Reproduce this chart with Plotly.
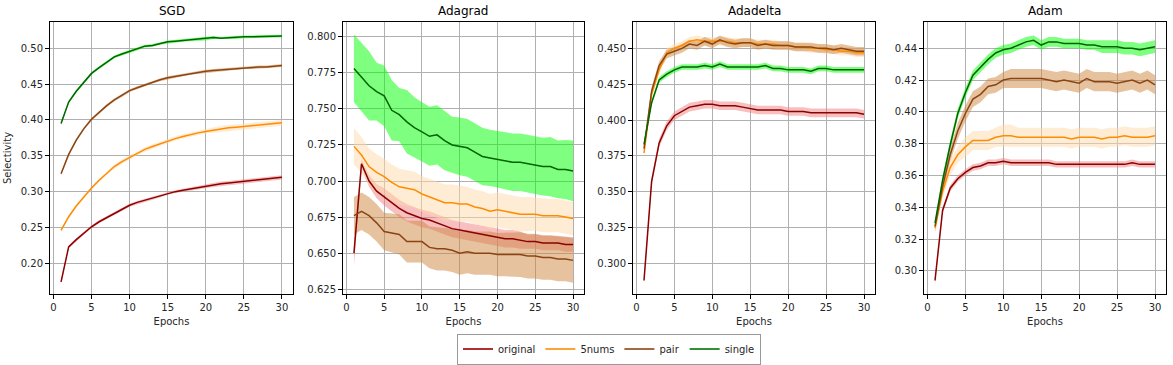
import plotly.graph_objects as go
from plotly.subplots import make_subplots

epochs = list(range(1, 31))
optimizers = ['SGD', 'Adagrad', 'Adadelta', 'Adam']
series = ['original', '5nums', 'pair', 'single']

# mean selectivity per optimizer / series
sgd_original = [0.174, 0.223, 0.233, 0.242, 0.251, 0.258, 0.264, 0.270, 0.275, 0.281, 0.285, 0.288, 0.291, 0.294, 0.298, 0.300, 0.302, 0.304, 0.306, 0.308, 0.309, 0.311, 0.312, 0.313, 0.315, 0.316, 0.317, 0.318, 0.319, 0.320]
sgd_5nums = [0.246, 0.265, 0.280, 0.293, 0.305, 0.316, 0.326, 0.335, 0.342, 0.348, 0.354, 0.359, 0.363, 0.367, 0.371, 0.374, 0.377, 0.380, 0.382, 0.384, 0.386, 0.388, 0.389, 0.390, 0.391, 0.392, 0.393, 0.394, 0.395, 0.396]
sgd_pair = [0.325, 0.352, 0.372, 0.388, 0.401, 0.411, 0.420, 0.428, 0.434, 0.441, 0.445, 0.449, 0.453, 0.456, 0.459, 0.461, 0.463, 0.465, 0.466, 0.468, 0.469, 0.470, 0.471, 0.472, 0.473, 0.473, 0.474, 0.474, 0.475, 0.476]
sgd_single = [0.395, 0.425, 0.440, 0.452, 0.465, 0.473, 0.481, 0.488, 0.492, 0.496, 0.499, 0.503, 0.504, 0.507, 0.509, 0.510, 0.511, 0.512, 0.513, 0.513, 0.515, 0.514, 0.515, 0.515, 0.516, 0.516, 0.516, 0.516, 0.517, 0.517]

adagrad_original = [0.650, 0.712, 0.700, 0.693, 0.689, 0.685, 0.681, 0.678, 0.676, 0.674, 0.673, 0.671, 0.669, 0.667, 0.666, 0.665, 0.664, 0.663, 0.662, 0.661, 0.660, 0.660, 0.659, 0.658, 0.658, 0.657, 0.657, 0.657, 0.656, 0.656]
adagrad_5nums = [0.724, 0.718, 0.710, 0.706, 0.703, 0.699, 0.696, 0.695, 0.694, 0.691, 0.689, 0.687, 0.685, 0.685, 0.684, 0.684, 0.682, 0.681, 0.679, 0.680, 0.679, 0.678, 0.677, 0.677, 0.677, 0.676, 0.676, 0.676, 0.675, 0.674]
adagrad_pair = [0.676, 0.679, 0.676, 0.671, 0.665, 0.664, 0.663, 0.658, 0.658, 0.658, 0.654, 0.653, 0.653, 0.652, 0.650, 0.651, 0.650, 0.650, 0.650, 0.649, 0.649, 0.649, 0.649, 0.648, 0.648, 0.647, 0.647, 0.646, 0.646, 0.645]
adagrad_single = [0.778, 0.772, 0.766, 0.762, 0.759, 0.749, 0.746, 0.741, 0.737, 0.734, 0.731, 0.732, 0.728, 0.725, 0.724, 0.723, 0.720, 0.717, 0.716, 0.715, 0.714, 0.713, 0.713, 0.712, 0.711, 0.710, 0.710, 0.708, 0.708, 0.707]

adadelta_original = [0.288, 0.357, 0.384, 0.396, 0.403, 0.406, 0.409, 0.410, 0.411, 0.411, 0.410, 0.410, 0.410, 0.409, 0.408, 0.407, 0.407, 0.407, 0.407, 0.406, 0.406, 0.406, 0.405, 0.405, 0.405, 0.405, 0.405, 0.405, 0.405, 0.404]
adadelta_5nums = [0.377, 0.418, 0.435, 0.447, 0.450, 0.452, 0.455, 0.456, 0.455, 0.455, 0.455, 0.455, 0.454, 0.454, 0.454, 0.453, 0.453, 0.453, 0.452, 0.452, 0.451, 0.451, 0.450, 0.450, 0.449, 0.449, 0.448, 0.448, 0.447, 0.447]
adadelta_pair = [0.380, 0.420, 0.438, 0.446, 0.448, 0.450, 0.453, 0.452, 0.455, 0.453, 0.456, 0.454, 0.453, 0.454, 0.454, 0.452, 0.453, 0.452, 0.452, 0.452, 0.451, 0.451, 0.451, 0.450, 0.450, 0.449, 0.450, 0.449, 0.448, 0.448]
adadelta_single = [0.383, 0.412, 0.428, 0.432, 0.435, 0.437, 0.437, 0.437, 0.438, 0.437, 0.439, 0.437, 0.437, 0.437, 0.437, 0.437, 0.438, 0.436, 0.436, 0.435, 0.435, 0.435, 0.434, 0.436, 0.436, 0.435, 0.435, 0.435, 0.435, 0.435]

adam_original = [0.294, 0.338, 0.352, 0.358, 0.362, 0.365, 0.366, 0.368, 0.368, 0.369, 0.368, 0.368, 0.368, 0.368, 0.368, 0.368, 0.367, 0.367, 0.367, 0.367, 0.367, 0.367, 0.367, 0.367, 0.367, 0.367, 0.368, 0.367, 0.367, 0.367]
adam_5nums = [0.327, 0.350, 0.365, 0.373, 0.378, 0.382, 0.382, 0.382, 0.384, 0.385, 0.385, 0.384, 0.384, 0.384, 0.384, 0.384, 0.384, 0.384, 0.383, 0.384, 0.384, 0.384, 0.383, 0.384, 0.384, 0.385, 0.384, 0.384, 0.384, 0.385]
adam_pair = [0.328, 0.353, 0.373, 0.388, 0.399, 0.408, 0.411, 0.416, 0.417, 0.420, 0.421, 0.421, 0.421, 0.421, 0.421, 0.420, 0.419, 0.420, 0.419, 0.418, 0.421, 0.419, 0.419, 0.419, 0.418, 0.419, 0.420, 0.418, 0.420, 0.417]
adam_single = [0.330, 0.357, 0.379, 0.399, 0.412, 0.423, 0.428, 0.433, 0.437, 0.439, 0.440, 0.442, 0.444, 0.445, 0.442, 0.444, 0.444, 0.443, 0.443, 0.443, 0.442, 0.442, 0.441, 0.441, 0.441, 0.440, 0.440, 0.439, 0.440, 0.441]

# half width of the shaded band (std)
sgd_original_sd = [0.002, 0.002, 0.002, 0.002, 0.002, 0.002, 0.002, 0.002, 0.002, 0.002, 0.002, 0.002, 0.002, 0.002, 0.002, 0.002, 0.002, 0.002, 0.003, 0.003, 0.003, 0.003, 0.003, 0.003, 0.003, 0.003, 0.003, 0.003, 0.003, 0.003]
sgd_5nums_sd = [0.002, 0.002, 0.002, 0.002, 0.002, 0.002, 0.002, 0.003, 0.003, 0.003, 0.003, 0.003, 0.003, 0.003, 0.003, 0.003, 0.003, 0.003, 0.003, 0.003, 0.004, 0.004, 0.004, 0.004, 0.004, 0.004, 0.004, 0.004, 0.004, 0.004]
sgd_pair_sd = [0.002, 0.002, 0.002, 0.002, 0.002, 0.002, 0.002, 0.002, 0.002, 0.002, 0.002, 0.002, 0.002, 0.002, 0.002, 0.002, 0.002, 0.002, 0.002, 0.002, 0.002, 0.002, 0.002, 0.002, 0.002, 0.002, 0.002, 0.002, 0.002, 0.002]
sgd_single_sd = [0.002, 0.002, 0.002, 0.002, 0.002, 0.002, 0.002, 0.002, 0.002, 0.002, 0.002, 0.002, 0.002, 0.002, 0.002, 0.002, 0.002, 0.002, 0.002, 0.002, 0.002, 0.002, 0.002, 0.002, 0.002, 0.002, 0.002, 0.002, 0.002, 0.002]

adagrad_original_sd = [0.009, 0.003, 0.004, 0.005, 0.006, 0.006, 0.006, 0.006, 0.006, 0.006, 0.006, 0.006, 0.006, 0.006, 0.006, 0.006, 0.006, 0.006, 0.006, 0.006, 0.006, 0.006, 0.006, 0.005, 0.005, 0.005, 0.005, 0.005, 0.005, 0.005]
adagrad_5nums_sd = [0.0125, 0.0125, 0.0125, 0.0125, 0.0125, 0.0125, 0.0125, 0.0125, 0.0125, 0.0125, 0.0125, 0.0125, 0.0125, 0.0125, 0.0125, 0.012, 0.012, 0.012, 0.012, 0.012, 0.012, 0.012, 0.012, 0.012, 0.0115, 0.0115, 0.0115, 0.0115, 0.0115, 0.0115]
adagrad_pair_sd = [0.013, 0.013, 0.013, 0.013, 0.013, 0.0135, 0.014, 0.0145, 0.0145, 0.0145, 0.0145, 0.015, 0.015, 0.015, 0.015, 0.015, 0.015, 0.015, 0.015, 0.015, 0.015, 0.015, 0.0155, 0.0155, 0.0155, 0.0155, 0.0155, 0.0155, 0.0155, 0.0155]
adagrad_single_sd = [0.0235, 0.024, 0.024, 0.020, 0.021, 0.021, 0.0185, 0.022, 0.021, 0.0205, 0.0205, 0.0205, 0.0205, 0.0195, 0.020, 0.020, 0.020, 0.020, 0.0195, 0.0195, 0.0195, 0.020, 0.020, 0.020, 0.020, 0.020, 0.0205, 0.020, 0.0205, 0.021]

adadelta_original_sd = [0.002, 0.003, 0.003, 0.003, 0.003, 0.003, 0.003, 0.003, 0.003, 0.003, 0.003, 0.003, 0.003, 0.003, 0.003, 0.003, 0.003, 0.003, 0.003, 0.003, 0.003, 0.003, 0.003, 0.003, 0.003, 0.003, 0.003, 0.003, 0.003, 0.003]
adadelta_5nums_sd = [0.004, 0.003, 0.003, 0.003, 0.003, 0.003, 0.003, 0.003, 0.003, 0.003, 0.003, 0.003, 0.003, 0.003, 0.003, 0.003, 0.003, 0.003, 0.003, 0.003, 0.003, 0.003, 0.003, 0.003, 0.003, 0.003, 0.003, 0.003, 0.003, 0.003]
adadelta_pair_sd = [0.003, 0.003, 0.003, 0.003, 0.003, 0.003, 0.003, 0.003, 0.003, 0.003, 0.003, 0.003, 0.003, 0.003, 0.003, 0.003, 0.003, 0.003, 0.003, 0.003, 0.003, 0.003, 0.003, 0.003, 0.003, 0.003, 0.003, 0.003, 0.003, 0.003]
adadelta_single_sd = [0.002, 0.002, 0.002, 0.002, 0.002, 0.002, 0.002, 0.002, 0.002, 0.002, 0.002, 0.002, 0.002, 0.002, 0.002, 0.002, 0.002, 0.002, 0.002, 0.002, 0.002, 0.002, 0.002, 0.002, 0.002, 0.002, 0.002, 0.002, 0.002, 0.002]

adam_original_sd = [0.002, 0.002, 0.002, 0.002, 0.002, 0.002, 0.002, 0.002, 0.002, 0.002, 0.002, 0.002, 0.002, 0.002, 0.002, 0.002, 0.002, 0.002, 0.002, 0.002, 0.002, 0.002, 0.002, 0.002, 0.002, 0.002, 0.002, 0.002, 0.002, 0.002]
adam_5nums_sd = [0.003, 0.004, 0.005, 0.005, 0.006, 0.006, 0.006, 0.006, 0.006, 0.007, 0.007, 0.006, 0.006, 0.006, 0.006, 0.006, 0.006, 0.006, 0.006, 0.006, 0.006, 0.006, 0.006, 0.006, 0.006, 0.006, 0.006, 0.006, 0.006, 0.006]
adam_pair_sd = [0.003, 0.004, 0.004, 0.005, 0.005, 0.005, 0.005, 0.005, 0.005, 0.005, 0.006, 0.006, 0.006, 0.006, 0.006, 0.006, 0.006, 0.006, 0.006, 0.006, 0.006, 0.006, 0.006, 0.006, 0.006, 0.006, 0.006, 0.006, 0.006, 0.006]
adam_single_sd = [0.002, 0.003, 0.003, 0.003, 0.003, 0.003, 0.003, 0.003, 0.003, 0.003, 0.003, 0.003, 0.003, 0.003, 0.003, 0.003, 0.003, 0.003, 0.003, 0.003, 0.003, 0.003, 0.004, 0.004, 0.004, 0.004, 0.004, 0.004, 0.004, 0.004]

means = {
    'SGD': [sgd_original, sgd_5nums, sgd_pair, sgd_single],
    'Adagrad': [adagrad_original, adagrad_5nums, adagrad_pair, adagrad_single],
    'Adadelta': [adadelta_original, adadelta_5nums, adadelta_pair, adadelta_single],
    'Adam': [adam_original, adam_5nums, adam_pair, adam_single],
}
sds = {
    'SGD': [sgd_original_sd, sgd_5nums_sd, sgd_pair_sd, sgd_single_sd],
    'Adagrad': [adagrad_original_sd, adagrad_5nums_sd, adagrad_pair_sd, adagrad_single_sd],
    'Adadelta': [adadelta_original_sd, adadelta_5nums_sd, adadelta_pair_sd, adadelta_single_sd],
    'Adam': [adam_original_sd, adam_5nums_sd, adam_pair_sd, adam_single_sd],
}

line_colors = ['#8b0000', '#ff8c00', '#8b4513', '#006400']
band_colors = ['rgba(240,128,128,0.5)', 'rgba(255,218,170,0.5)', 'rgba(205,133,63,0.5)', 'rgba(0,255,0,0.5)']
legend_colors = ['#b03030', '#ffa333', '#a26a42', '#338f33']

y_ranges = [[0.1572, 0.5367], [0.6217, 0.8102], [0.2786, 0.4684], [0.2855, 0.4565]]
y_ticks = [[0.20, 0.25, 0.30, 0.35, 0.40, 0.45, 0.50],
           [0.625, 0.650, 0.675, 0.700, 0.725, 0.750, 0.775, 0.800],
           [0.300, 0.325, 0.350, 0.375, 0.400, 0.425, 0.450],
           [0.30, 0.32, 0.34, 0.36, 0.38, 0.40, 0.42, 0.44]]
y_fmt = ['.2f', '.3f', '.3f', '.2f']

W, H = 1173, 365
x_px = [(50, 293), (343, 584), (633, 875), (924, 1166)]
x_domains = [[a / W, b / W] for a, b in x_px]
y_domain = [1 - 294 / H, 1 - 22 / H]

fig = make_subplots(rows=1, cols=4)

for k, opt in enumerate(optimizers):
    col = k + 1
    for i, name in enumerate(series):
        m = means[opt][i]
        s = sds[opt][i]
        upper = [a + b for a, b in zip(m, s)]
        lower = [a - b for a, b in zip(m, s)]
        fig.add_trace(go.Scatter(x=epochs + epochs[::-1], y=upper + lower[::-1], fill='toself',
                                 fillcolor=band_colors[i], line=dict(width=0), mode='lines',
                                 showlegend=False, hoverinfo='skip'), row=1, col=col)
    for i, name in enumerate(series):
        fig.add_trace(go.Scatter(x=epochs, y=means[opt][i], mode='lines', name=name,
                                 line=dict(color=line_colors[i], width=1.5),
                                 showlegend=False), row=1, col=col)
    fig.update_xaxes(domain=x_domains[k], range=[-0.45, 31.45], tickvals=[0, 5, 10, 15, 20, 25, 30],
                     title=dict(text='Epochs', standoff=5, font=dict(size=10)), row=1, col=col)
    fig.update_yaxes(domain=y_domain, range=y_ranges[k], tickvals=y_ticks[k], tickformat=y_fmt[k],
                     row=1, col=col)
    fig.add_annotation(text=opt, xref='paper', yref='paper', x=sum(x_domains[k]) / 2, y=y_domain[1],
                       xanchor='center', yanchor='bottom', yshift=2, showarrow=False,
                       font=dict(size=12, color='black'))

# legend-only entries
for i, name in enumerate(series):
    fig.add_trace(go.Scatter(x=[None], y=[None], mode='lines', name=name,
                             line=dict(color=legend_colors[i], width=2)), row=1, col=1)

fig.update_yaxes(title=dict(text='Selectivity', standoff=7, font=dict(size=10)), row=1, col=1)

fig.update_xaxes(showline=True, mirror=True, linecolor='black', linewidth=1, ticks='outside',
                 ticklen=4, tickcolor='black', showgrid=True, gridcolor='#b0b0b0', gridwidth=1,
                 zeroline=False, tickfont=dict(size=10), automargin=False)
fig.update_yaxes(showline=True, mirror=True, linecolor='black', linewidth=1, ticks='outside',
                 ticklen=4, tickcolor='black', showgrid=True, gridcolor='#b0b0b0', gridwidth=1,
                 zeroline=False, tickfont=dict(size=10), automargin=False)

fig.update_layout(
    width=W, height=H,
    margin=dict(l=0, r=0, t=0, b=0),
    paper_bgcolor='white', plot_bgcolor='white',
    font=dict(family='DejaVu Sans', size=10, color='#262626'),
    legend=dict(orientation='h', x=609 / W, y=1 - 349 / H, xanchor='center',
                yanchor='middle', bordercolor='#999999', borderwidth=1, font=dict(size=10),
                itemwidth=30, tracegroupgap=0),
)

# drop the default page margin so the figure sits at the top-left corner
fig.write_html("out.html", config={'displayModeBar': False},
               post_script="document.body.style.margin='0px';")
